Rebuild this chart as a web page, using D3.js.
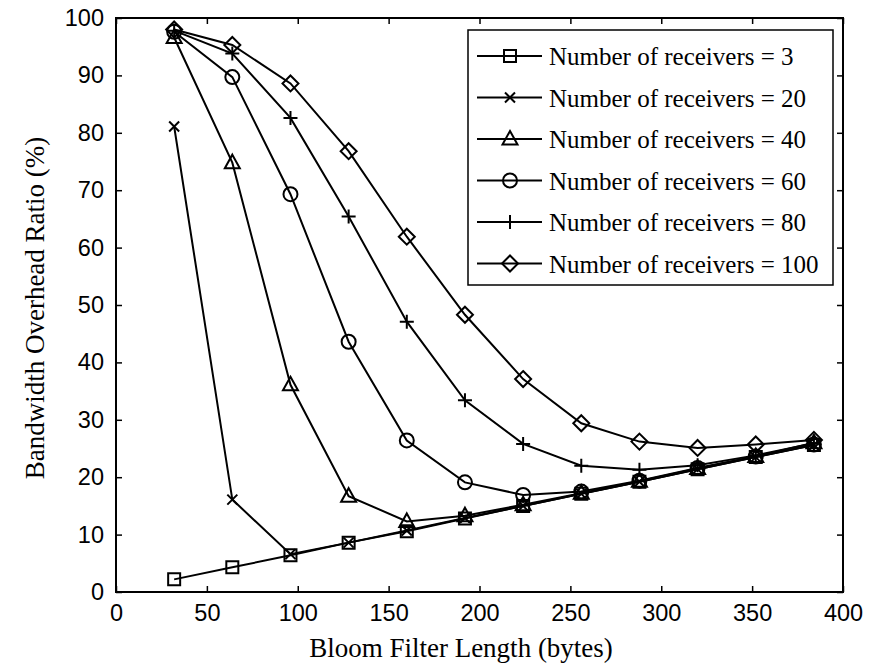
<!DOCTYPE html>
<html>
<head>
<meta charset="utf-8">
<script src="https://d3js.org/d3.v7.min.js"></script>
<style>
  body { margin: 0; background: #fff; }
  .tick text { font-family: "Liberation Sans", Arial, sans-serif; font-size: 23.5px; fill: #000; }
  .label { font-family: "Liberation Serif", "Times New Roman", serif; font-size: 27px; fill: #000; }
  .legend text { font-family: "Liberation Serif", "Times New Roman", serif; font-size: 25px; fill: #000; }
</style>
</head>
<body>
<svg width="873" height="668"></svg>
<script>
var filterLength = [32, 64, 96, 128, 160, 192, 224, 256, 288, 320, 352, 384];

var recv3   = [2.2, 4.3, 6.4, 8.6, 10.6, 12.8, 15.0, 17.1, 19.2, 21.4, 23.5, 25.6];
var recv20  = [81.1, 16.1, 6.6, 8.6, 10.7, 12.9, 15.0, 17.1, 19.2, 21.4, 23.5, 25.6];
var recv40  = [96.6, 74.8, 36.1, 16.7, 12.3, 13.3, 15.2, 17.2, 19.3, 21.5, 23.6, 26.0];
var recv60  = [97.6, 89.7, 69.3, 43.6, 26.4, 19.1, 16.9, 17.5, 19.4, 21.6, 23.6, 25.7];
var recv80  = [97.8, 93.8, 82.6, 65.4, 47.1, 33.4, 25.8, 22.0, 21.3, 22.1, 23.8, 25.9];
var recv100 = [98.0, 95.3, 88.6, 76.8, 61.9, 48.3, 37.1, 29.4, 26.2, 25.1, 25.7, 26.5];

var seriesNames = ["Number of receivers = 3", "Number of receivers = 20", "Number of receivers = 40",
    "Number of receivers = 60", "Number of receivers = 80", "Number of receivers = 100"];
var seriesValues = [recv3, recv20, recv40, recv60, recv80, recv100];
var seriesMarkers = ["square", "x", "triangle", "circle", "plus", "diamond"];

var xTicks = [0, 50, 100, 150, 200, 250, 300, 350, 400];
var yTicks = [0, 10, 20, 30, 40, 50, 60, 70, 80, 90, 100];

var svg = d3.select("svg"),
    plotLeft = 116, plotRight = 843, plotTop = 18, plotBottom = 592;

var x = d3.scaleLinear().domain([0, 400]).range([plotLeft, plotRight]);
var y = d3.scaleLinear().domain([0, 100]).range([plotBottom, plotTop]);

// axes with inward ticks, mirrored on top and right
svg.append("g")
    .attr("transform", "translate(0," + plotBottom + ")")
    .call(d3.axisBottom(x).tickValues(xTicks).tickSizeInner(-6).tickSizeOuter(0).tickPadding(12))
    .call(function (g) { g.select(".domain").remove(); });
svg.append("g")
    .attr("transform", "translate(" + plotLeft + ",0)")
    .call(d3.axisLeft(y).tickValues(yTicks).tickSizeInner(-6).tickSizeOuter(0).tickPadding(12))
    .call(function (g) { g.select(".domain").remove(); });
svg.append("g")
    .attr("transform", "translate(0," + plotTop + ")")
    .call(d3.axisTop(x).tickValues(xTicks).tickSizeInner(-6).tickSizeOuter(0).tickFormat(""))
    .call(function (g) { g.select(".domain").remove(); });
svg.append("g")
    .attr("transform", "translate(" + plotRight + ",0)")
    .call(d3.axisRight(y).tickValues(yTicks).tickSizeInner(-6).tickSizeOuter(0).tickFormat(""))
    .call(function (g) { g.select(".domain").remove(); });

svg.selectAll(".tick line").attr("stroke", "#000").attr("stroke-width", 1.5);

svg.append("rect")
    .attr("x", plotLeft).attr("y", plotTop)
    .attr("width", plotRight - plotLeft).attr("height", plotBottom - plotTop)
    .attr("fill", "none").attr("stroke", "#000").attr("stroke-width", 2);

function markerPath(type) {
    switch (type) {
        case "square":
            return "M-6,-6H6V6H-6Z";
        case "x":
            return "M-5,-5L5,5M-5,5L5,-5";
        case "triangle":
            return "M0,-8L7.5,5.5H-7.5Z";
        case "circle":
            return "M7,0A7,7 0 1,1 -7,0A7,7 0 1,1 7,0Z";
        case "plus":
            return "M-7,0H7M0,-7V7";
        case "diamond":
            return "M0,-8L8,0L0,8L-8,0Z";
    }
}

var line = d3.line()
    .x(function (d) { return x(d[0]); })
    .y(function (d) { return y(d[1]); });

seriesValues.forEach(function (vals, i) {
    var pts = filterLength.map(function (f, j) { return [f, vals[j]]; });
    var g = svg.append("g").attr("class", "series");
    g.append("path")
        .datum(pts)
        .attr("d", line)
        .attr("fill", "none")
        .attr("stroke", "#000")
        .attr("stroke-width", 2);
    g.selectAll("path.marker")
        .data(pts)
        .enter().append("path")
        .attr("class", "marker")
        .attr("d", markerPath(seriesMarkers[i]))
        .attr("transform", function (d) { return "translate(" + x(d[0]) + "," + y(d[1]) + ")"; })
        .attr("fill", "none")
        .attr("stroke", "#000")
        .attr("stroke-width", 2);
});

// legend
var legend = svg.append("g").attr("class", "legend");
legend.append("rect")
    .attr("x", 468).attr("y", 30)
    .attr("width", 365).attr("height", 255)
    .attr("fill", "#fff").attr("stroke", "#000").attr("stroke-width", 1.5);

var rows = legend.selectAll("g.row")
    .data(seriesNames)
    .enter().append("g")
    .attr("class", "row")
    .attr("transform", function (d, i) { return "translate(0," + (56 + i * 41.5) + ")"; });
rows.append("line")
    .attr("x1", 477).attr("x2", 542)
    .attr("stroke", "#000").attr("stroke-width", 2);
rows.append("path")
    .attr("d", function (d, i) { return markerPath(seriesMarkers[i]); })
    .attr("transform", "translate(510,0)")
    .attr("fill", "none").attr("stroke", "#000").attr("stroke-width", 2);
rows.append("text")
    .attr("x", 549).attr("y", 9)
    .text(function (d) { return d; });

svg.append("text")
    .attr("class", "label")
    .attr("x", 461).attr("y", 657)
    .attr("text-anchor", "middle")
    .text("Bloom Filter Length (bytes)");
svg.append("text")
    .attr("class", "label")
    .attr("transform", "translate(44,308) rotate(-90)")
    .attr("text-anchor", "middle")
    .text("Bandwidth Overhead Ratio (%)");
</script>
</body>
</html>
